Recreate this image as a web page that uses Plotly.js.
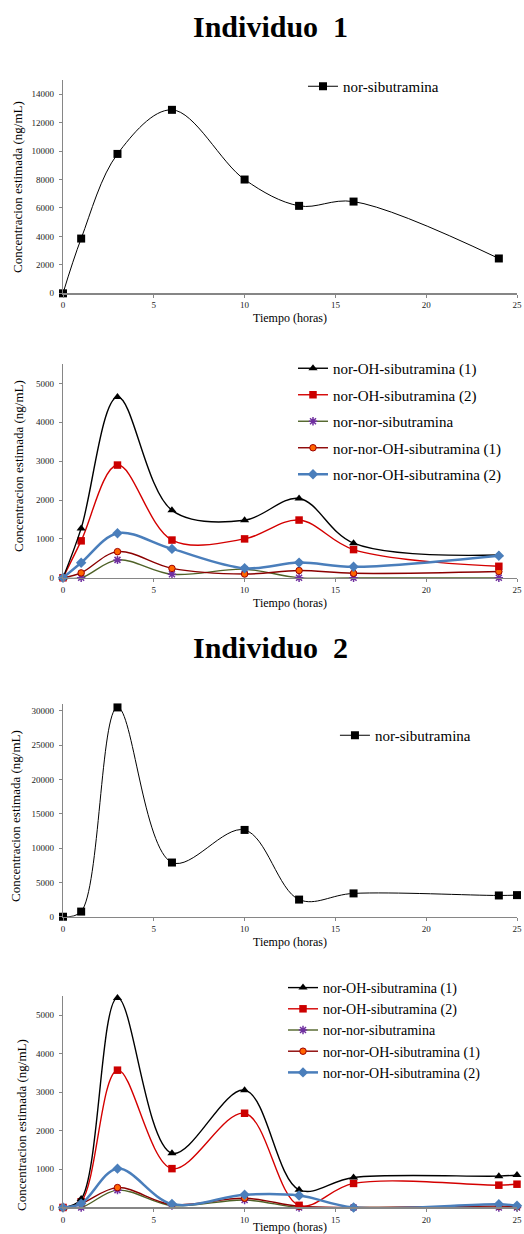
<!DOCTYPE html>
<html>
<head>
<meta charset="utf-8">
<script src="https://cdn.plot.ly/plotly-3.0.1.min.js"></script>
<style>html,body{margin:0;padding:0;background:#fff;}#chart{width:524px;height:1234px;}</style>
</head>
<body>
<div id="chart"></div>
<script>
// ---- Individuo 1 ----
var tiempo1 = [0, 1, 3, 6, 10, 13, 16, 24];
var ind1_norSib = [0, 3850, 9800, 12900, 8000, 6150, 6450, 2450];
var ind1_norOH1 = [0, 1270, 4650, 1735, 1480, 2040, 890, 585];
var ind1_norOH2 = [0, 950, 2900, 970, 1000, 1485, 725, 295];
var ind1_norNorSib = [0, 0, 460, 90, 220, 0, 0, 0];
var ind1_norNorOH1 = [0, 125, 672, 240, 95, 185, 115, 160];
var ind1_norNorOH2 = [0, 385, 1145, 742, 245, 390, 282, 568];

// ---- Individuo 2 ----
var tiempo2 = [0, 1, 3, 6, 10, 13, 16, 24, 25];
var ind2_norSib = [0, 750, 30500, 7900, 12650, 2500, 3400, 3100, 3150];
var ind2_norOH1 = [0, 220, 5450, 1410, 3050, 460, 780, 815, 845];
var ind2_norOH2 = [0, 150, 3570, 1010, 2450, 55, 625, 580, 605];
var ind2_norNorSib = [0, 0, 450, 50, 195, 0, 0, 0, 0];
var ind2_norNorOH1 = [0, 100, 517, 75, 240, 30, 0, 35, 20];
var ind2_norNorOH2 = [0, 100, 1010, 90, 330, 310, 0, 85, 45];

var names = ["nor-OH-sibutramina (1)", "nor-OH-sibutramina (2)", "nor-nor-sibutramina",
             "nor-nor-OH-sibutramina (1)", "nor-nor-OH-sibutramina (2)"];
var titles = ["Individuo\u00a0 1", "Individuo\u00a0 2"];
var yTitle = "Concentracion estimada (ng/mL)";
var xTitle = "Tiempo (horas)";
var xTicks = [0, 5, 10, 15, 20, 25];

var serif = "Liberation Serif, Times New Roman, serif";

var styles = [
  {line: {color: "#000000", width: 1.4}, marker: {symbol: "triangle-up", size: 8, color: "#000000"}},
  {line: {color: "#D40000", width: 1.4}, marker: {symbol: "square", size: 7.5, color: "#CC0000"}},
  {line: {color: "#4F6228", width: 1.4}, marker: {symbol: "asterisk-open", size: 7, color: "#7030A0", line: {color: "#7030A0", width: 1.5}}},
  {line: {color: "#8B0000", width: 1.4}, marker: {symbol: "circle", size: 6.5, color: "#FF6600", line: {color: "#A00000", width: 1}}},
  {line: {color: "#4A7EBB", width: 2.5}, marker: {symbol: "diamond", size: 8, color: "#4A7EBB"}}
];

function tr(x, y, name, st, xa, ya, leg) {
  return {
    type: "scatter", mode: "lines+markers", x: x, y: y, name: name,
    xaxis: xa, yaxis: ya, legend: leg, legendgroup: leg + name,
    line: Object.assign({shape: "spline", smoothing: 1}, st.line),
    marker: st.marker, cliponaxis: false, hoverinfo: "x+y+name"
  };
}

var blackSq = {line: {color: "#000000", width: 1}, marker: {symbol: "square", size: 8, color: "#000000"}};

var data = [];
data.push(tr(tiempo1, ind1_norSib, "nor-sibutramina", blackSq, "x", "y", "legend"));
var s1 = [ind1_norOH1, ind1_norOH2, ind1_norNorSib, ind1_norNorOH1, ind1_norNorOH2];
var order = [2, 3, 1, 0, 4]; // drawing order (back to front)
order.forEach(function (i) { data.push(tr(tiempo1, s1[i], names[i], styles[i], "x2", "y2", "legend2")); });
data.push(tr(tiempo2, ind2_norSib, "nor-sibutramina", blackSq, "x3", "y3", "legend3"));
var s2 = [ind2_norOH1, ind2_norOH2, ind2_norNorSib, ind2_norNorOH1, ind2_norNorOH2];
order.forEach(function (i) { data.push(tr(tiempo2, s2[i], names[i], styles[i], "x4", "y4", "legend4")); });

var axisCol = "#868686";
function xax(anchor) {
  return {
    domain: [0, 1], anchor: anchor, range: [0, 25], tickvals: xTicks, showgrid: false, zeroline: false,
    showline: true, linecolor: axisCol, linewidth: 1.3, ticks: "outside", ticklen: 3, tickcolor: axisCol,
    tickfont: {family: serif, size: 9, color: "#222"}, automargin: false,
    title: {text: xTitle, font: {family: serif, size: 12, color: "#000"}, standoff: 4}
  };
}
function yax(anchor, dom, max, dtick) {
  return {
    domain: dom, anchor: anchor, range: [0, max], dtick: dtick, tickformat: "d", showgrid: false, zeroline: false,
    showline: true, linecolor: axisCol, linewidth: 1.3, ticks: "outside", ticklen: 3, tickcolor: axisCol,
    ticklabelstandoff: 3,
    tickfont: {family: serif, size: 9, color: "#222"}, automargin: false
  };
}

function legend(x, y, gap, size) {
  return {x: x, y: y, xanchor: "left", yanchor: "top", xref: "paper", yref: "paper",
    bgcolor: "rgba(0,0,0,0)", font: {family: serif, size: size, color: "#000"},
    tracegroupgap: gap, traceorder: "grouped", itemwidth: 30};
}

function yTitleAnn(px, py) {
  return {text: yTitle, textangle: -90, xref: "paper", yref: "paper",
    x: (px - 63) / 454, y: (1234 - py) / 1234, xanchor: "center", yanchor: "middle",
    showarrow: false, font: {family: serif, size: 13, color: "#000"}};
}

var layout = {
  width: 524, height: 1234, paper_bgcolor: "#fff", plot_bgcolor: "#fff",
  margin: {l: 63, r: 7, t: 0, b: 0}, showlegend: true,
  xaxis: xax("y"), yaxis: yax("x", [0.7623, 0.9352], 15000, 2000),
  xaxis2: xax("y2"), yaxis2: yax("x2", [0.5318, 0.7050], 5500, 1000),
  xaxis3: xax("y3"), yaxis3: yax("x3", [0.2571, 0.4295], 31000, 5000),
  xaxis4: xax("y4"), yaxis4: yax("x4", [0.0215, 0.1929], 5500, 1000),
  legend: legend(0.5286, (1234 - 70) / 1234, 0, 15),
  legend2: legend(0.5066, (1234 - 352) / 1234, 4, 15),
  legend3: legend(0.599, (1234 - 719) / 1234, 0, 15),
  legend4: legend(0.4846, (1234 - 972) / 1234, 0, 14),
  annotations: [
    {text: "<b>" + titles[0] + "</b>", xref: "paper", yref: "paper", x: 0.456, y: (1234 - 26) / 1234,
     xanchor: "center", yanchor: "middle", showarrow: false, font: {family: serif, size: 30, color: "#000"}},
    {text: "<b>" + titles[1] + "</b>", xref: "paper", yref: "paper", x: 0.456, y: (1234 - 647) / 1234,
     xanchor: "center", yanchor: "middle", showarrow: false, font: {family: serif, size: 30, color: "#000"}},
    yTitleAnn(17, 187), yTitleAnn(19, 466), yTitleAnn(16, 816), yTitleAnn(21, 1125)
  ]
};

// legend entries in the reference order
data.forEach(function (t) {
  var idx = names.indexOf(t.name);
  if (idx >= 0) { t.legendrank = idx + 1; }
});

Plotly.newPlot("chart", data, layout, {displayModeBar: false, staticPlot: true});
</script>
</body>
</html>
